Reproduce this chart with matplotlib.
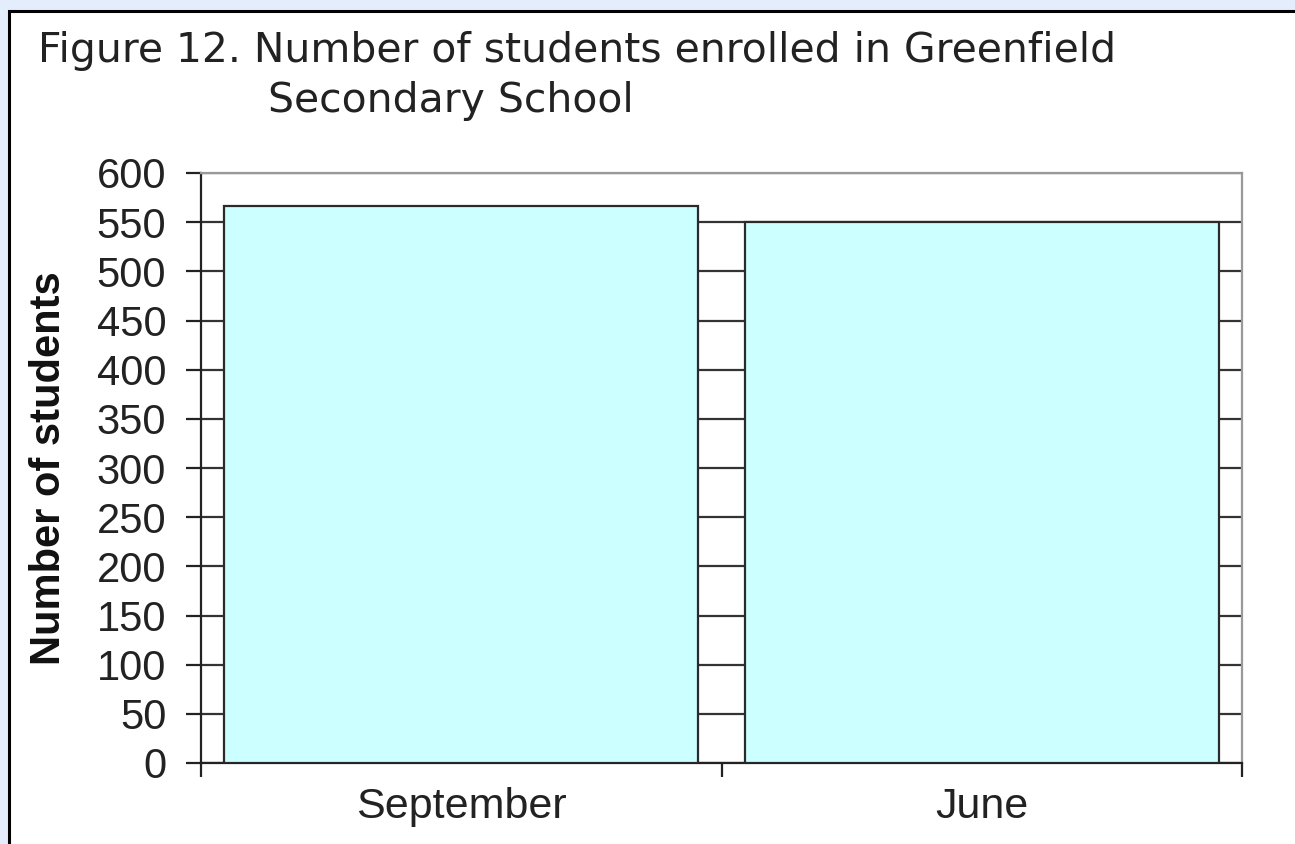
import matplotlib.pyplot as plt
from matplotlib.patches import Rectangle
from matplotlib.ticker import FixedLocator, NullFormatter

months = ["September", "June"]
students = [566, 550]
y_ticks = list(range(0, 601, 50))

W, H = 1295, 844
fig = plt.figure(figsize=(W / 100, H / 100), dpi=100)
fig.patch.set_facecolor("#e4edfb")

# white panel with black frame (runs off the right and bottom edges)
fig.patches.append(Rectangle((9 / W, -0.1), 1.2, (844 - 11) / H + 0.1,
                             transform=fig.transFigure, facecolor="white",
                             edgecolor="black", linewidth=2.2, zorder=-5))

fig.text(38 / W, 1 - 62 / H, "Figure 12. Number of students enrolled in Greenfield",
         fontsize=29.4, family="DejaVu Sans", color="#222222", va="baseline")
fig.text(268 / W, 1 - 112 / H, "Secondary School",
         fontsize=29.4, family="DejaVu Sans", color="#222222", va="baseline")

ax = fig.add_axes([201 / W, 81 / H, (1242 - 201) / W, (763 - 173) / H])
ax.set_facecolor("white")

x = range(len(months))
ax.bar(x, students, width=0.91, color="#ccffff", edgecolor="#2a2a2a",
       linewidth=1.6, zorder=3)

ax.set_xlim(-0.5, len(months) - 0.5)
ax.set_ylim(0, 600)
ax.set_yticks(y_ticks)
ax.yaxis.grid(True, color="#333333", linewidth=1.6, zorder=1)
ax.set_axisbelow(True)

# category boundaries get the ticks, labels sit at the centres
ax.xaxis.set_major_locator(FixedLocator([-0.5, 0.5, 1.5]))
ax.xaxis.set_major_formatter(NullFormatter())
ax.xaxis.set_minor_locator(FixedLocator(list(x)))
ax.set_xticklabels(months, minor=True)
ax.tick_params(axis="x", which="major", length=10, width=1.6, color="#222222")
ax.tick_params(axis="x", which="minor", length=0, pad=17)
ax.tick_params(axis="y", length=11, width=1.6, color="#222222", pad=14)

for lbl in ax.get_xticklabels(minor=True):
    lbl.set_family("Liberation Sans")
    lbl.set_fontsize(31)
    lbl.set_color("#222222")
for lbl in ax.get_yticklabels():
    lbl.set_family("Liberation Sans")
    lbl.set_fontsize(30)
    lbl.set_color("#222222")

ax.set_ylabel("Number of students", family="Liberation Sans", fontsize=30,
              fontweight="bold", color="#111111", labelpad=20)

for side in ("left", "bottom"):
    ax.spines[side].set_color("#222222")
    ax.spines[side].set_linewidth(1.6)
for side in ("top", "right"):
    ax.spines[side].set_color("#999999")
    ax.spines[side].set_linewidth(1.6)

fig.savefig("out.png", dpi=100, facecolor=fig.get_facecolor())
